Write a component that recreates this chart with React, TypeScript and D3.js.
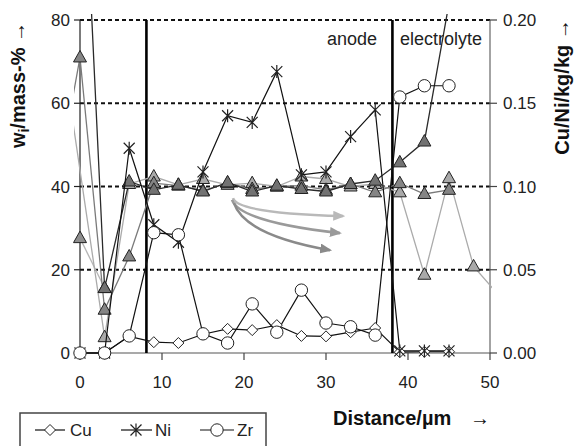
import React from 'react';
import * as d3 from 'd3';

// distances (µm) of the EDX points
const distance = [0, 3, 6, 9, 12, 15, 18, 21, 24, 27, 30, 33, 36, 39, 42, 45];
const cuValues = [0, 0, 4, 2.6, 2.4, 4.5, 5.8, 5.5, 6.7, 4.1, 4.0, 5.0, 6.0, 0.2, 0.3, 0.3];
const niValues = [0, 0, 49.2, 30.8, 26.6, 43.5, 57, 55.4, 67.6, 42.8, 43.5, 52, 58.4, 0.5, 0.5, 0.5];
const zrValues = [0, 0, 4.1, 28.9, 28.4, 4.6, 2.4, 11.8, 5.0, 15.1, 7.2, 6.3, 4.3, 61.5, 64.2, 64.2];

// Cu/Ni ratio series (right axis, kg/kg)
const triDistance = [-3, 0, 3, 6, 9, 12, 15, 18, 21, 24, 27, 30, 33, 36, 39, 42, 45, 48, 51];
const triDark = [null, 0.35, 0.039, 0.103, 0.098, 0.101, 0.097, 0.1025, 0.097, 0.1005, 0.0985, 0.097, 0.1015, 0.1035, 0.1145, 0.127, 0.21, null, null];
const triMid = [0.096, 0.1775, 0.026, 0.058, 0.102, 0.1005, 0.0975, 0.102, 0.0985, 0.1, 0.1005, 0.098, 0.1015, 0.0965, 0.102, 0.0955, 0.098, null, null];
const triLight = [0.21, null, 0.0095, 0.1015, 0.106, 0.101, 0.1045, 0.101, 0.102, 0.1, 0.106, 0.1045, 0.1, 0.1015, 0.0965, 0.047, 0.105, 0.052, 0.035];
const triPale = [null, 0.069, 0.039, null, null, null, null, null, null, null, null, null, null, null, null, null, null, null, null];

const leftTicks = [0, 20, 40, 60, 80];
const rightTicks = [0, 0.05, 0.1, 0.15, 0.2];
const xTicks = [0, 10, 20, 30, 40, 50];
const boundaries = [8.1, 38.1];

// annotation arrows (start, control, end) in data units of the left axis
const arrows = [
  { color: '#b9b9b9', pts: [[18.66, 37.2], [19.15, 33.6], [32.1, 32.9]] },
  { color: '#9a9a9a', pts: [[18.54, 36.8], [19.5, 31.5], [31.7, 28.8]] },
  { color: '#8a8a8a', pts: [[18.78, 36.0], [20.1, 28.3], [30.5, 24.7]] },
];

const W = 575;
const H = 446;
const x = d3.scaleLinear().domain([0, 50]).range([80, 490]);
const yL = d3.scaleLinear().domain([0, 80]).range([353, 20]);
const yR = d3.scaleLinear().domain([0, 0.2]).range([353, 20]);

const font = '"Liberation Sans", Arial, Helvetica, sans-serif';

const Diamond = ({ cx, cy }: { cx: number; cy: number }) => (
  <path d={`M${cx},${cy - 5.5} L${cx + 5.5},${cy} L${cx},${cy + 5.5} L${cx - 5.5},${cy} Z`} fill="#fff" stroke="#222" strokeWidth={1} />
);
const Star = ({ cx, cy }: { cx: number; cy: number }) => (
  <path
    d={`M${cx - 5.5},${cy - 5.5} L${cx + 5.5},${cy + 5.5} M${cx - 5.5},${cy + 5.5} L${cx + 5.5},${cy - 5.5} M${cx},${cy - 6.5} L${cx},${cy + 6.5}`}
    stroke="#222"
    strokeWidth={1.2}
    fill="none"
  />
);
const Circle = ({ cx, cy }: { cx: number; cy: number }) => (
  <circle cx={cx} cy={cy} r={6.2} fill="#fff" stroke="#222" strokeWidth={1} />
);
const Tri = ({ cx, cy, fill }: { cx: number; cy: number; fill: string }) => (
  <path d={`M${cx},${cy - 7} L${cx + 6.5},${cy + 4.5} L${cx - 6.5},${cy + 4.5} Z`} fill={fill} stroke="#222" strokeWidth={1} />
);

const triSeries = [
  { values: triPale, line: '#b5b5b5', fill: '#8e8e8e' },
  { values: triLight, line: '#ababab', fill: '#a9a9a9' },
  { values: triMid, line: '#7a7a7a', fill: '#858585' },
  { values: triDark, line: '#2a2a2a', fill: '#727272' },
];

export default function App() {
  const line = d3.line<[number, number]>().x(d => d[0]).y(d => d[1]);

  const triPts = (vals: (number | null)[]) =>
    triDistance
      .map((d, i) => [d, vals[i]] as [number, number | null])
      .filter(p => p[1] !== null) as [number, number][];

  const leftSeries = [
    { values: cuValues, Marker: Diamond },
    { values: niValues, Marker: Star },
    { values: zrValues, Marker: Circle },
  ];

  return (
    <svg width={W} height={H} style={{ position: 'absolute', left: 0, top: 0, background: '#fff' }} fontFamily={font}>
      <defs>
        <clipPath id="plotClip">
          <rect x={74} y={14} width={418} height={350} />
        </clipPath>
        {arrows.map((a, i) => (
          <marker key={i} id={`ah${i}`} viewBox="0 0 12 10" refX={10} refY={5} markerWidth={12} markerHeight={10} markerUnits="userSpaceOnUse" orient="auto">
            <path d="M0,0 L12,5 L0,10 Z" fill={a.color} />
          </marker>
        ))}
      </defs>

      {/* gridlines */}
      {leftTicks.filter(t => t > 0).map(t => (
        <line key={t} x1={x(0)} x2={x(50)} y1={yL(t)} y2={yL(t)} stroke="#111" strokeWidth={2} strokeDasharray="4,3" />
      ))}

      {/* axes */}
      <line x1={x(0)} x2={x(0)} y1={yL(80)} y2={yL(0)} stroke="#222" strokeWidth={1.2} />
      <line x1={x(50)} x2={x(50)} y1={yL(80)} y2={yL(0)} stroke="#666" strokeWidth={1.2} />
      <line x1={x(0)} x2={x(50)} y1={yL(0)} y2={yL(0)} stroke="#555" strokeWidth={1.2} />
      {leftTicks.map(t => (
        <g key={t}>
          <line x1={x(0) - 6} x2={x(0)} y1={yL(t)} y2={yL(t)} stroke="#222" strokeWidth={1.2} />
          <text x={x(0) - 10} y={yL(t) + 6} textAnchor="end" fontSize={17} fill="#222">{t}</text>
        </g>
      ))}
      {rightTicks.map(t => (
        <g key={t}>
          <line x1={x(50)} x2={x(50) + 7} y1={yR(t)} y2={yR(t)} stroke="#444" strokeWidth={1.2} />
          <text x={x(50) + 13} y={yR(t) + 6} fontSize={17} fill="#222">{t.toFixed(2)}</text>
        </g>
      ))}
      {xTicks.map(t => (
        <g key={t}>
          <line x1={x(t)} x2={x(t)} y1={yL(0)} y2={yL(0) + 7} stroke="#444" strokeWidth={1.2} />
          <text x={x(t)} y={yL(0) + 35} textAnchor="middle" fontSize={17} fill="#222">{t}</text>
        </g>
      ))}

      {/* anode / electrolyte boundaries */}
      {boundaries.map(b => (
        <line key={b} x1={x(b)} x2={x(b)} y1={yL(80)} y2={yL(0)} stroke="#000" strokeWidth={2.6} />
      ))}

      {/* triangle series (right axis) */}
      <g clipPath="url(#plotClip)">
        {triSeries.map((s, i) => (
          <path key={i} d={line(triPts(s.values).map(p => [x(p[0]), yR(p[1])])) || ''} fill="none" stroke={s.line} strokeWidth={1.3} />
        ))}
      </g>
      {triSeries.map((s, i) =>
        triPts(s.values)
          .filter(p => p[0] >= 0 && p[0] <= 50 && p[1] <= 0.2)
          .map((p, j) => <Tri key={`${i}-${j}`} cx={x(p[0])} cy={yR(p[1])} fill={s.fill} />)
      )}

      {/* arrows */}
      {arrows.map((a, i) => {
        const [s, c, e] = a.pts;
        return (
          <path
            key={i}
            d={`M${x(s[0])},${yL(s[1])} Q${x(c[0])},${yL(c[1])} ${x(e[0])},${yL(e[1])}`}
            fill="none"
            stroke={a.color}
            strokeWidth={2.6}
            markerEnd={`url(#ah${i})`}
          />
        );
      })}

      {/* Cu, Ni, Zr (left axis) */}
      {leftSeries.map((s, i) => (
        <path key={i} d={line(distance.map((d, j) => [x(d), yL(s.values[j])])) || ''} fill="none" stroke="#111" strokeWidth={1.2} />
      ))}
      {leftSeries.map((s, i) =>
        distance.map((d, j) => <s.Marker key={`${i}-${j}`} cx={x(d)} cy={yL(s.values[j])} />)
      )}

      {/* region labels */}
      <text x={377} y={45} textAnchor="end" fontSize={18} fill="#222">anode</text>
      <text x={400} y={45} fontSize={18} fill="#222">electrolyte</text>

      {/* axis titles */}
      <text transform="translate(25,85) rotate(-90)" textAnchor="middle" fontSize={20} fontWeight="bold" fill="#111">
        w<tspan fontSize={14} dy={4}>i</tspan><tspan dy={-4}>/mass-% →</tspan>
      </text>
      <text transform="translate(569,87) rotate(-90)" textAnchor="middle" fontSize={20} fontWeight="bold" fill="#111">
        Cu/Ni/kg/kg →
      </text>
      <text x={333} y={425} fontSize={20} fontWeight="bold" fill="#111">Distance/µm</text>
      <text x={470} y={425} fontSize={20} fill="#111">→</text>

      {/* legend */}
      <rect x={20} y={413} width={246} height={40} fill="#fff" stroke="#444" strokeWidth={1.5} />
      <line x1={35} x2={65} y1={430} y2={430} stroke="#111" strokeWidth={1.2} />
      <Diamond cx={50} cy={430} />
      <text x={70} y={436} fontSize={17} fill="#222">Cu</text>
      <line x1={121} x2={152} y1={430} y2={430} stroke="#111" strokeWidth={1.2} />
      <Star cx={136} cy={430} />
      <text x={155} y={436} fontSize={17} fill="#222">Ni</text>
      <line x1={200} x2={234} y1={430} y2={430} stroke="#111" strokeWidth={1.2} />
      <Circle cx={217} cy={430} />
      <text x={237} y={436} fontSize={17} fill="#222">Zr</text>
    </svg>
  );
}
